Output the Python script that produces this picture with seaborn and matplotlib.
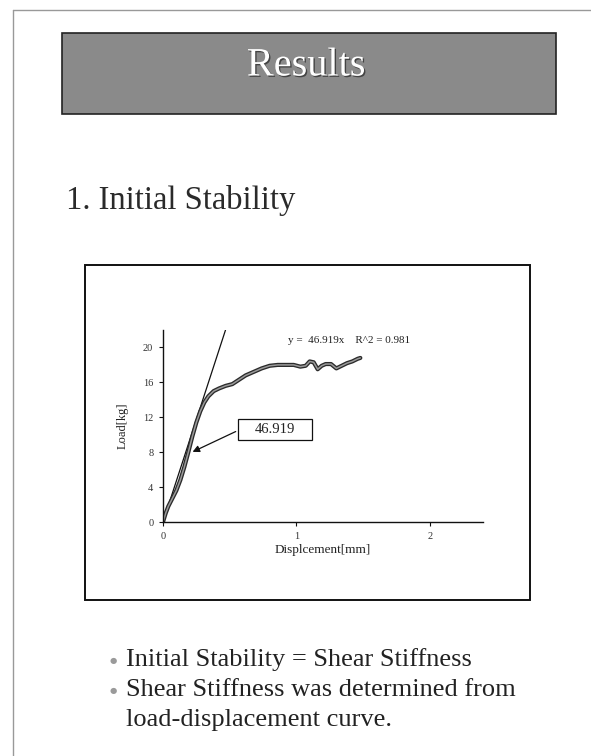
import matplotlib
matplotlib.use("Agg")
import matplotlib.pyplot as plt
import matplotlib.patheffects as pe
from matplotlib.patches import Rectangle
import seaborn as sns
import pandas as pd

# data
disp = [0, 0.02, 0.04, 0.07, 0.10, 0.13, 0.16, 0.19, 0.22, 0.25, 0.28, 0.31,
        0.34, 0.38, 0.42, 0.47, 0.52, 0.57, 0.62, 0.68, 0.74, 0.80, 0.86, 0.92,
        0.98, 1.03, 1.07, 1.10, 1.13, 1.16, 1.19, 1.22, 1.26, 1.30, 1.34, 1.38,
        1.42, 1.46, 1.48]
load = [0, 1.0, 1.8, 2.7, 3.6, 4.8, 6.3, 8.0, 9.8, 11.4, 12.7, 13.7,
        14.4, 15.0, 15.3, 15.6, 15.8, 16.3, 16.8, 17.2, 17.6, 17.9, 18.0, 18.0,
        18.0, 17.8, 17.9, 18.4, 18.3, 17.5, 17.9, 18.1, 18.1, 17.6, 17.9, 18.2,
        18.4, 18.7, 18.8]
slope = 46.919
r2 = 0.981
x_ticks = [0, 1, 2]
y_ticks = [0, 4, 8, 12, 16, 20]
bullet_lines = ["Initial Stability = Shear Stiffness",
                "Shear Stiffness was determined from",
                "load-displacement curve."]
has_bullet = [True, True, False]

df = pd.DataFrame({"Displacement": disp, "Load": load})

sns.set_style("ticks")
plt.rcParams["font.family"] = ["Liberation Serif", "DejaVu Serif"]

W, H = 591, 756
fig = plt.figure(figsize=(W / 100, H / 100), dpi=100)


def fx(x):
    return x / W


def fy(y):
    return 1 - y / H


# slide border (left + top)
fig.add_artist(plt.Line2D([fx(13), fx(13)], [fy(10), 0], color="#999999", lw=1))
fig.add_artist(plt.Line2D([fx(13), 1], [fy(10), fy(10)], color="#999999", lw=1))

# header band
fig.add_artist(Rectangle((fx(62), fy(114)), fx(556) - fx(62), fy(33) - fy(114),
                         transform=fig.transFigure, facecolor="#8a8a8a",
                         edgecolor="#222222", lw=1.2))
fig.text(fx(306), fy(66), "Results", color="white", fontsize=29,
         ha="center", va="center",
         path_effects=[pe.withSimplePatchShadow(offset=(1, -1), shadow_rgbFace="#333333", alpha=0.8)])

# section title
fig.text(fx(66), fy(200), "1. Initial Stability", color="#2a2a2a",
         fontsize=23.5, ha="left", va="center")

# chart frame
fig.add_artist(Rectangle((fx(85), fy(600)), fx(530) - fx(85), fy(265) - fy(600),
                         transform=fig.transFigure, facecolor="none",
                         edgecolor="#111111", lw=1.4))

# plot area
ax = fig.add_axes([fx(163), fy(522), fx(483) - fx(163), fy(330) - fy(522)])
ax.set_facecolor("none")
ax.set_xlim(0, 2.4)
ax.set_ylim(0, 22)

fit_x = [0, 22 / slope]
ax.plot(fit_x, [slope * v for v in fit_x], color="#111111", lw=0.9)

sns.lineplot(data=df, x="Displacement", y="Load", ax=ax, color="#2b2b2b",
             lw=3.0, sort=False)
sns.lineplot(data=df, x="Displacement", y="Load", ax=ax, color="#9a9a9a",
             lw=1.1, sort=False)

for s in ["top", "right"]:
    ax.spines[s].set_visible(False)
for s in ["left", "bottom"]:
    ax.spines[s].set_color("#111111")
    ax.spines[s].set_linewidth(1.0)

ax.set_xticks(x_ticks)
ax.set_yticks(y_ticks)
ax.tick_params(axis="both", labelsize=7.5, length=3, width=0.8,
               color="#111111", labelcolor="#333333", pad=4)
ax.set_xlabel("Displcement[mm]", fontsize=9.5, color="#222222", labelpad=2)
ax.set_ylabel("Load[kg]", fontsize=9, color="#222222", labelpad=10)

ax.text(0.94, 20.8, f"y =  {slope}x    R^2 = {r2}", fontsize=8,
        color="#222222", ha="left", va="center")

# labelled box with arrow
ax.add_patch(Rectangle((0.564, 9.37), 0.556, 2.4, facecolor="white",
                       edgecolor="#111111", lw=0.9))
ax.text(0.842, 10.57, f"{slope}", fontsize=10.5, ha="center", va="center",
        color="#222222")
ax.annotate("", xy=(0.203, 7.9), xytext=(0.564, 10.5),
            arrowprops=dict(arrowstyle="-|>", color="#111111", lw=0.9,
                            mutation_scale=10))

# bullets
line_y = [660, 690, 720]
for y, txt, b in zip(line_y, bullet_lines, has_bullet):
    if b:
        fig.text(fx(113), fy(y), "\u25CF", fontsize=6, color="#9a9a9a",
                 ha="center", va="center", family="DejaVu Sans")
    fig.text(fx(126), fy(y), txt, fontsize=19, color="#222222",
             ha="left", va="center")

fig.savefig("out.png", dpi=100)
